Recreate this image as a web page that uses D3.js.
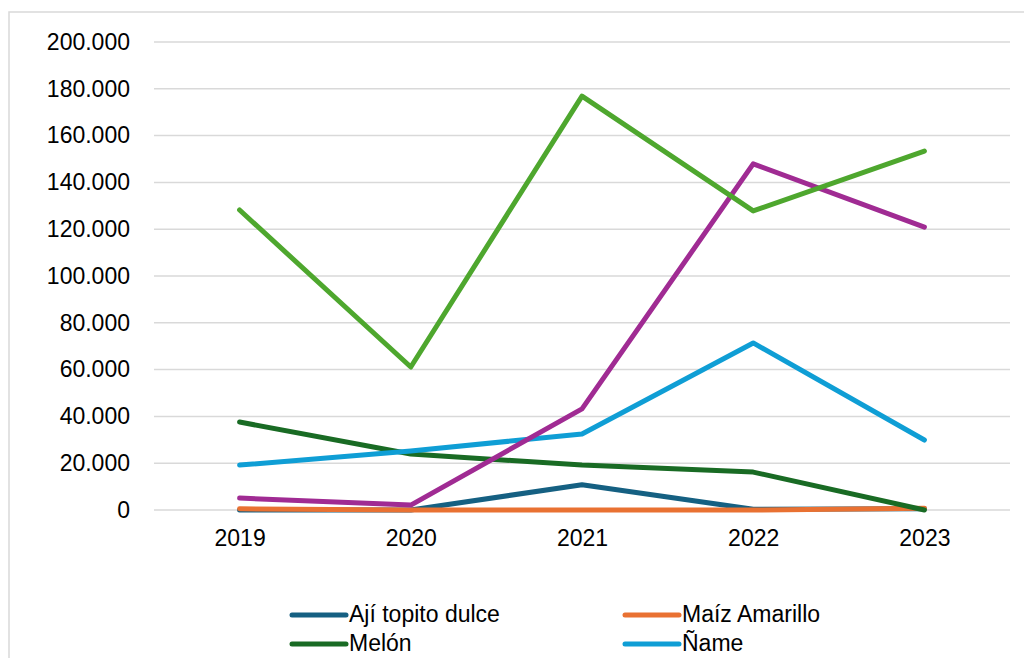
<!DOCTYPE html>
<html>
<head>
<meta charset="utf-8">
<script src="https://cdn.jsdelivr.net/npm/d3@7"></script>
<style>
  body { margin: 0; background: #fff; }
  text { font-family: "Liberation Sans", Arial, sans-serif; fill: #000; }
</style>
</head>
<body>
<svg id="chart"></svg>
<script>
var years = ["2019", "2020", "2021", "2022", "2023"];
var seriesNames = ["Ají topito dulce", "Maíz Amarillo", "Melón", "Ñame", "Yuca", "Patilla"];
var seriesColors = ["#156082", "#E97132", "#196B24", "#0F9ED5", "#A02B93", "#4EA72E"];
var ajiValues    = [0, 0, 10800, 300, 500];
var maizValues   = [500, 0, 0, 0, 800];
var melonValues  = [37600, 23900, 19200, 16200, 0];
var nameValues   = [19200, 25200, 32500, 71400, 29900];
var yucaValues   = [5100, 2100, 43200, 147900, 120900];
var patillaValues = [128200, 61100, 176900, 127800, 153400];
var yTicks = [0, 20000, 40000, 60000, 80000, 100000, 120000, 140000, 160000, 180000, 200000];

var allValues = [ajiValues, maizValues, melonValues, nameValues, yucaValues, patillaValues];

var width = 1024, height = 658,
    plot = {left: 154, right: 1010, top: 42, bottom: 510};

var locale = d3.formatLocale({decimal: ",", thousands: ".", grouping: [3], currency: ["$", ""]}),
    fmt = locale.format(",d");

var xScale = d3.scalePoint()
      .domain(years)
      .range([plot.left, plot.right])
      .padding(0.5),
    yScale = d3.scaleLinear()
      .domain([0, 200000])
      .range([plot.bottom, plot.top]);

var svg = d3.select("#chart")
    .attr("width", width)
    .attr("height", height);

// outer chart frame (runs off the right and bottom edge)
svg.append("rect")
    .attr("x", 9).attr("y", 12)
    .attr("width", 1040).attr("height", 700)
    .attr("fill", "none")
    .attr("stroke", "#d9d9d9")
    .attr("stroke-width", 1.5);

// gridlines
svg.append("g")
  .selectAll("line")
  .data(yTicks).enter()
  .append("line")
    .attr("x1", plot.left).attr("x2", plot.right)
    .attr("y1", function(d){ return yScale(d); })
    .attr("y2", function(d){ return yScale(d); })
    .attr("stroke", "#d9d9d9")
    .attr("stroke-width", 1.5);

var yAxis = d3.axisLeft(yScale)
    .tickValues(yTicks)
    .tickFormat(function(d){ return d === 0 ? "0" : fmt(d); })
    .tickSize(0)
    .tickPadding(24);

svg.append("g")
    .attr("transform", "translate(" + plot.left + ",0)")
    .call(yAxis)
    .call(function(g){ g.select(".domain").remove(); })
    .selectAll("text")
      .style("font-size", "23px")
      .attr("fill", "#000");

var xAxis = d3.axisBottom(xScale).tickSize(0).tickPadding(20);

svg.append("g")
    .attr("transform", "translate(0," + plot.bottom + ")")
    .call(xAxis)
    .call(function(g){ g.select(".domain").remove(); })
    .selectAll("text")
      .style("font-size", "23px")
      .attr("fill", "#000");

var line = d3.line()
    .x(function(d, i){ return xScale(years[i]); })
    .y(function(d){ return yScale(d); });

svg.append("g")
  .selectAll("path")
  .data(allValues).enter()
  .append("path")
    .attr("d", line)
    .attr("fill", "none")
    .attr("stroke", function(d, i){ return seriesColors[i]; })
    .attr("stroke-width", 5)
    .attr("stroke-linejoin", "round")
    .attr("stroke-linecap", "round");

// legend: two columns; only the first two rows fit inside the picture
var legendItems = seriesNames.slice(0, 4);

var legend = svg.append("g")
  .selectAll("g")
  .data(legendItems).enter()
  .append("g")
    .attr("transform", function(d, i){
      return "translate(" + (i % 2 === 0 ? 292 : 625) + "," + (615 + Math.floor(i / 2) * 29) + ")";
    });

legend.append("line")
    .attr("x1", 0).attr("x2", 54)
    .attr("stroke", function(d, i){ return seriesColors[i]; })
    .attr("stroke-width", 5)
    .attr("stroke-linecap", "round");

legend.append("text")
    .attr("x", 57)
    .attr("dy", "0.32em")
    .style("font-size", "23px")
    .text(function(d){ return d; });
</script>
</body>
</html>
